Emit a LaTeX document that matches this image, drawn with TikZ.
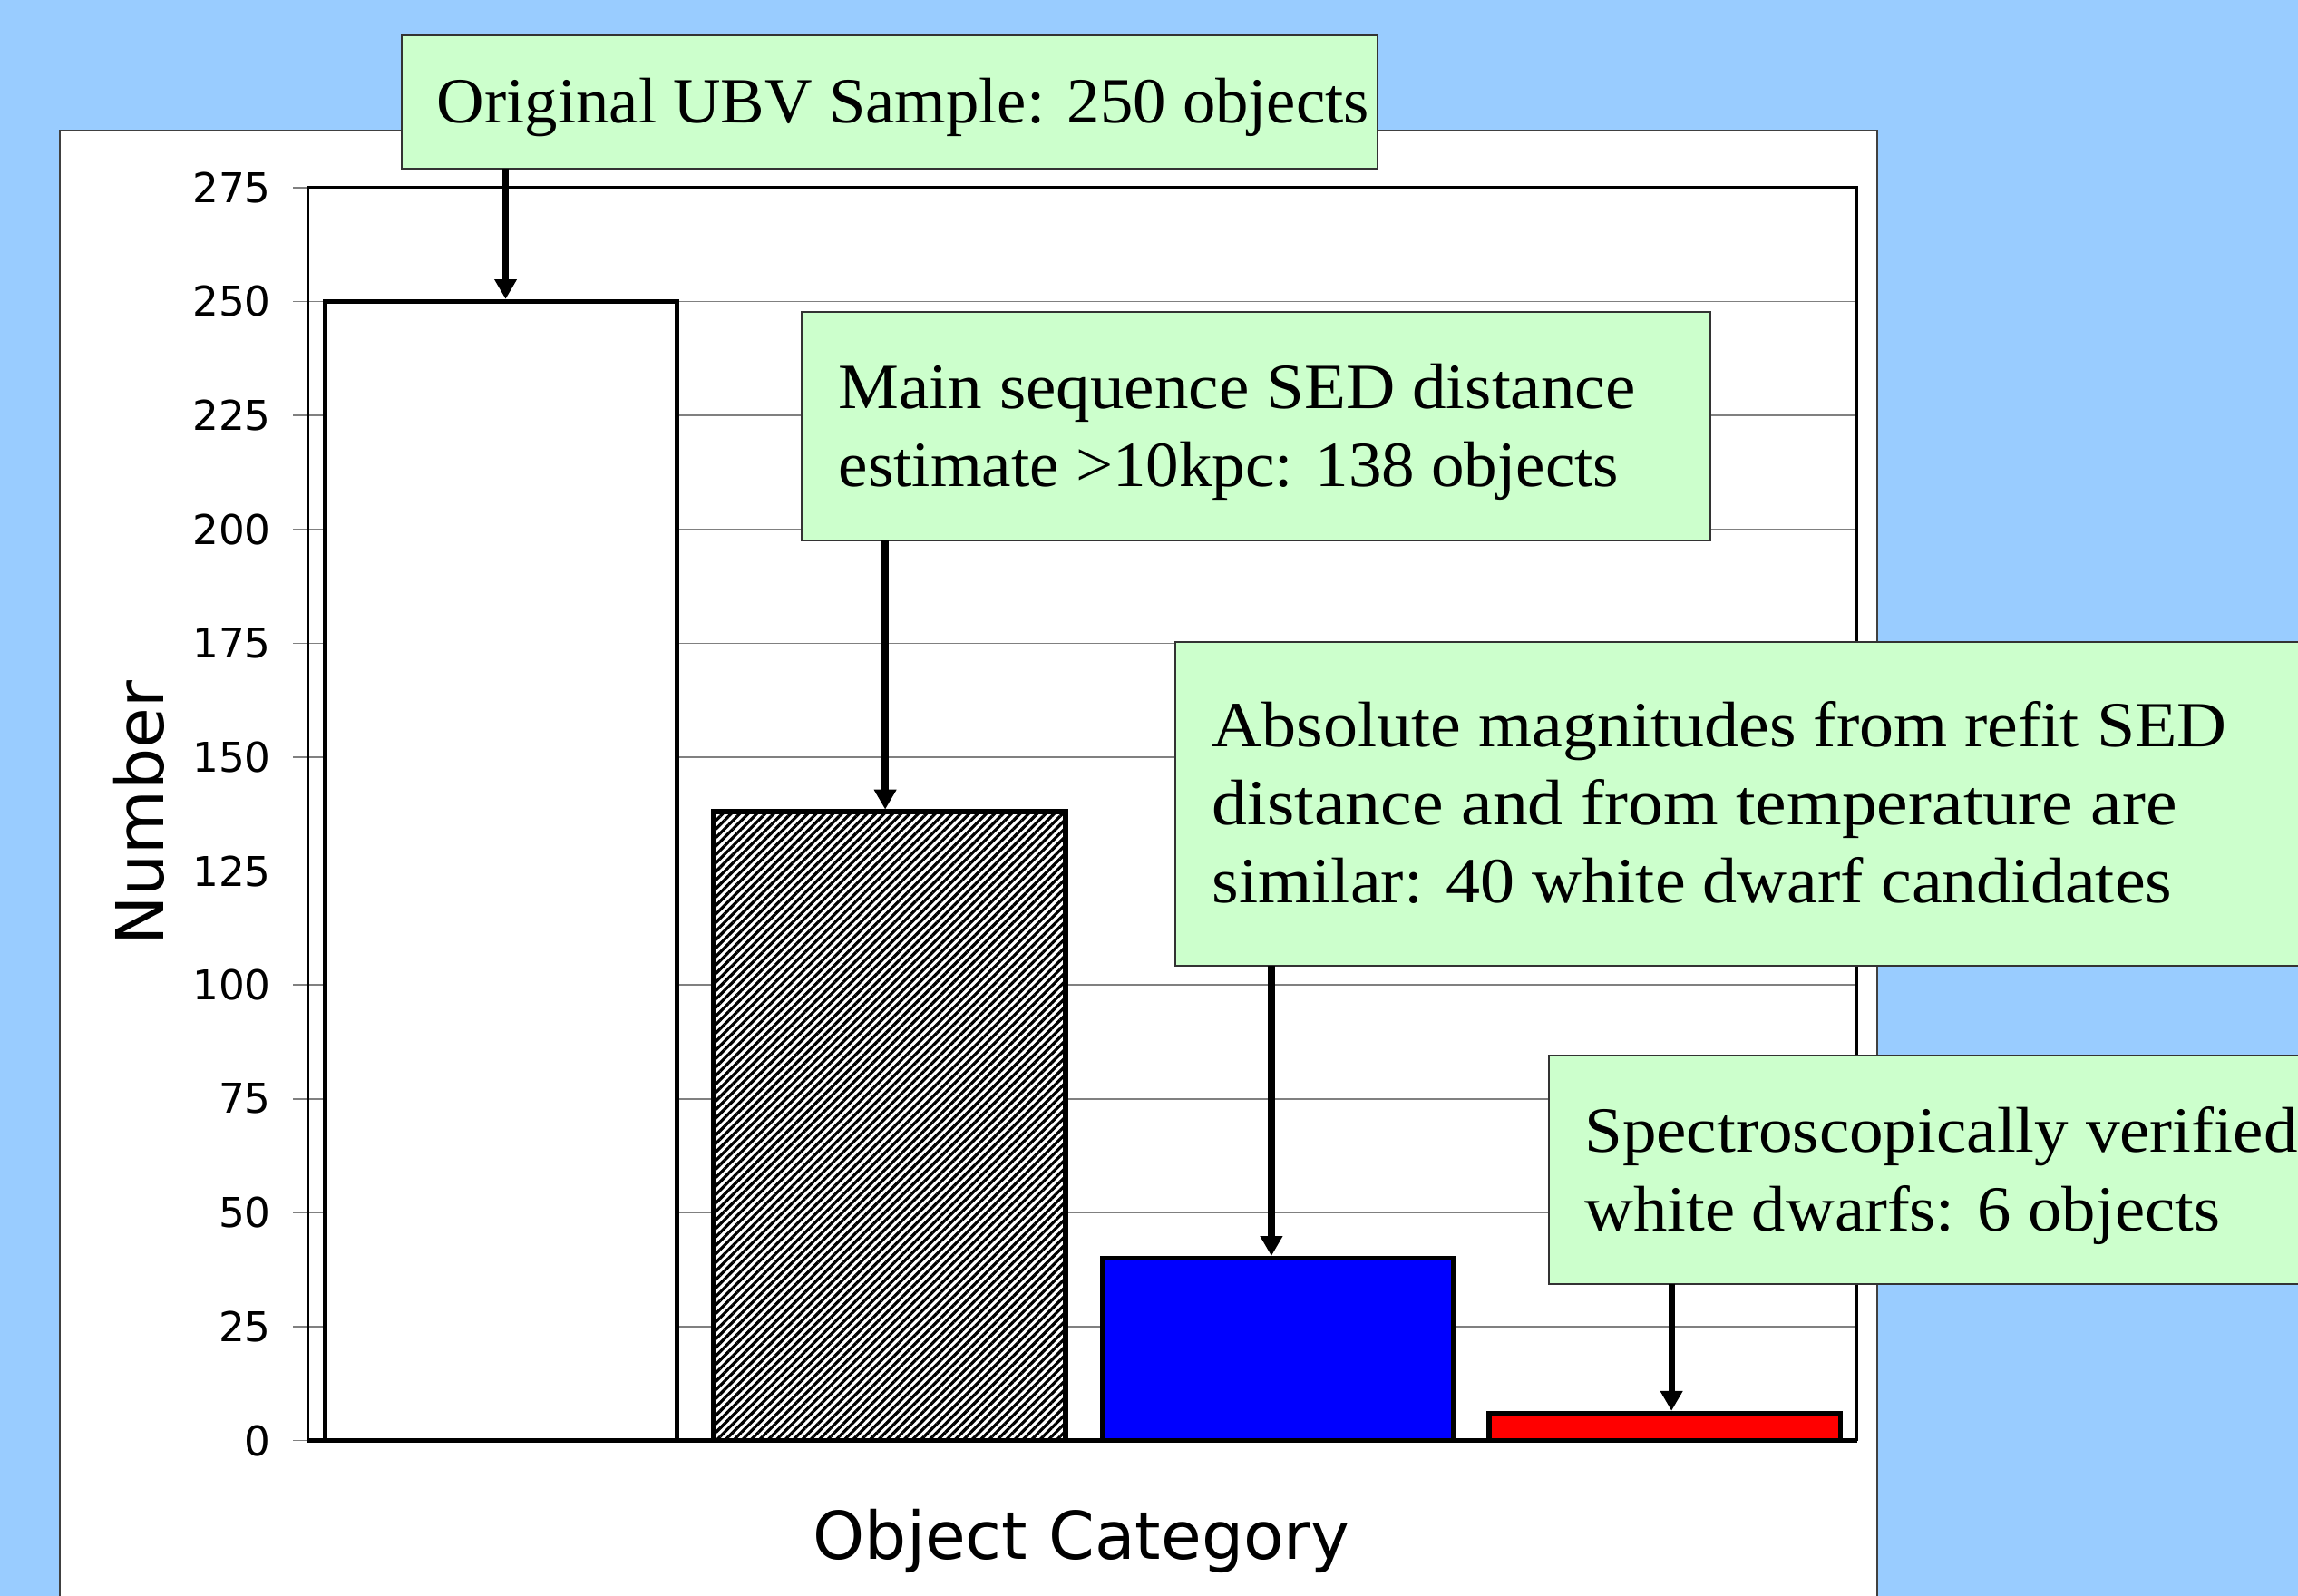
\documentclass[tikz,border=0pt]{standalone}
\usepackage{fontspec}
\setmainfont{Liberation Serif}
\newfontfamily\callfont[FakeStretch=1.05]{Liberation Serif}
\newfontfamily\axfont{DejaVu Sans}
\usetikzlibrary{arrows.meta,patterns.meta}
\definecolor{bgblue}{HTML}{99CCFF}
\definecolor{callgreen}{HTML}{CCFFCC}
\definecolor{barblue}{HTML}{0000FF}
\definecolor{barred}{HTML}{FF0000}
\begin{document}
\begin{tikzpicture}[x=1pt,y=-1pt,
  barbox/.style={draw=black, line width=3.3pt, inner sep=0pt, outer sep=0pt, minimum width=240pt, anchor=south west},
  callbox/.style={draw=black!80, line width=1pt, fill=callgreen, inner sep=0pt, outer sep=0pt, anchor=north west},
  calltext/.style={inner sep=0pt, anchor=base west, font=\callfont\fontsize{44pt}{53pt}\selectfont},
  ticklab/.style={inner sep=0pt, anchor=east, font=\axfont\fontsize{28pt}{30pt}\selectfont},
  axlab/.style={inner sep=0pt, font=\axfont\fontsize{45pt}{50pt}\selectfont},
  grid/.style={draw=black!50, line width=1pt},
  arr/.style={draw=black, line width=4.5pt, -{Triangle[length=13.5pt,width=14.5pt]}}
]
\useasboundingbox (0,0) rectangle (1568,1089);
\fill[bgblue] (0,0) rectangle (1568,1089);
% white panel
\draw[fill=white, draw=black!75, line width=1pt] (41,89) rectangle (1281,1100);
% gridlines and ticks
\foreach \v in {0,25,...,275}{
  \pgfmathsetmacro{\yy}{983-\v*3.10909}
  \draw[grid] (200,\yy) -- (1267,\yy);
  \node[ticklab] (yl\v) at (185,\yy) {\v};
}
% frame
\draw[line width=2pt] (210,983) -- (210,128) -- (1267,128) -- (1267,983);
\draw[line width=3pt] (210,983) -- (1267,983);
% bars
\node[barbox, fill=white, minimum height=777.3pt] (bar1) at (222,983) {};
\node[barbox, preaction={fill=white}, pattern={Lines[angle=45,distance=4.1pt,line width=2pt]}, pattern color=black, minimum height=429.1pt] (bar2) at (487,983) {};
\node[barbox, fill=barblue, minimum height=124.4pt] (bar3) at (752,983) {};
\node[barbox, fill=barred, minimum height=18.7pt] (bar4) at (1016,983) {};
% axis labels
\node[axlab, rotate=90] (ylab) at (95,555) {Number};
\node[axlab, anchor=base] (xlab) at (738,1064) {Object Category};
% callout boxes
\node[callbox, minimum width=666pt, minimum height=91pt] (b1) at (274,24) {};
\node[callbox, minimum width=620pt, minimum height=156pt] (b2) at (547,213) {};
\node[callbox, minimum width=800pt, minimum height=221pt] (b3) at (802,438) {};
\node[callbox, minimum width=545pt, minimum height=156pt] (b4) at (1057,720) {};
% callout texts
\node[calltext, xscale=0.974] (t1) at (298,84) {Original UBV Sample: 250 objects};
\node[calltext, xscale=1.007] (t2a) at (572,279) {Main sequence SED distance};
\node[calltext, xscale=0.978] (t2b) at (572,332) {estimate >10kpc: 138 objects};
\node[calltext, xscale=1.018] (t3a) at (827,509.5) {Absolute magnitudes from refit SED};
\node[calltext, xscale=1.043] (t3b) at (827,563) {distance and from temperature are};
\node[calltext, xscale=1.019] (t3c) at (827,616) {similar: 40 white dwarf candidates};
\node[calltext, xscale=1.006] (t4a) at (1081,786) {Spectroscopically verified};
\node[calltext] (t4b) at (1081,840) {white dwarfs: 6 objects};
% arrows
\draw[arr] ([xshift=3pt]bar1.north |- b1.south) -- ([xshift=3pt,yshift=1.6pt]bar1.north);
\draw[arr] ([xshift=-3pt]bar2.north |- b2.south) -- ([xshift=-3pt,yshift=1.6pt]bar2.north);
\draw[arr] ([xshift=-4.5pt]bar3.north |- b3.south) -- ([xshift=-4.5pt,yshift=1.6pt]bar3.north);
\draw[arr] ([xshift=4.5pt]bar4.north |- b4.south) -- ([xshift=4.5pt,yshift=1.6pt]bar4.north);
\end{tikzpicture}
\end{document}
